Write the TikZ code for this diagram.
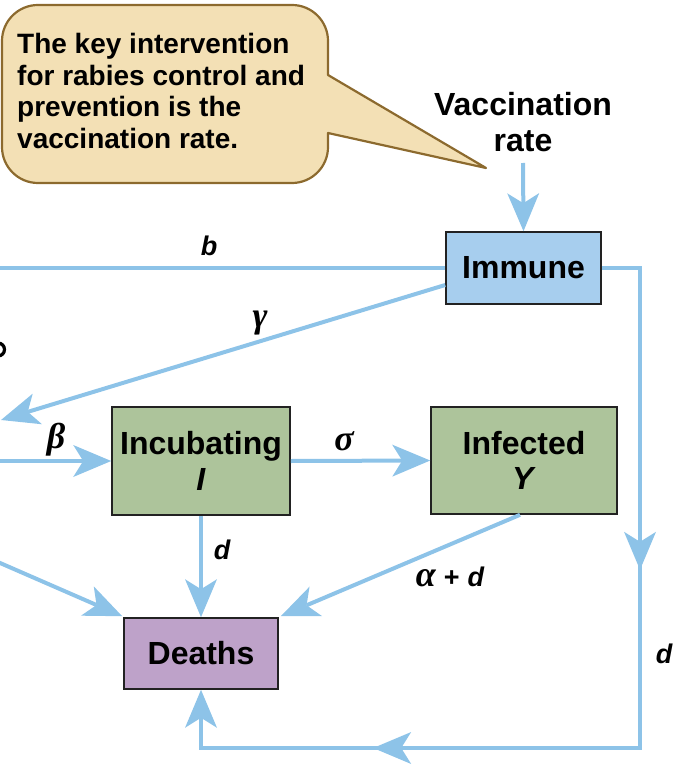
\documentclass[tikz,border=0pt]{standalone}
\usepackage{fontspec}
\setmainfont{Liberation Sans}
\newfontfamily\greekserif{Liberation Serif}
\usetikzlibrary{arrows.meta,decorations.markings,calc}

\definecolor{flow}{HTML}{8DC3E8}
\definecolor{boxline}{HTML}{222222}
\definecolor{immfill}{HTML}{A7CEEE}
\definecolor{stagefill}{HTML}{ADC49B}
\definecolor{deathfill}{HTML}{BEA2C9}
\definecolor{notefill}{HTML}{F3E0B5}
\definecolor{noteline}{HTML}{8C6A2E}

\newcommand{\boxfont}{\fontsize{32}{35.5}\selectfont\bfseries}
\newcommand{\notefont}{\fontsize{28}{31.7}\selectfont\bfseries}
\newcommand{\ratefont}{\fontsize{27}{30}\selectfont\bfseries\itshape}
\newcommand{\greekfont}{\fontsize{36}{38}\selectfont\greekserif\bfseries\itshape}

\tikzset{
  x=1pt, y=-1pt,
  stage/.style={draw=boxline, line width=1.6pt, inner sep=0pt, align=center, font=\boxfont},
  flowline/.style={draw=flow, line width=4pt},
  flowhead/.tip={Stealth[length=38pt,width=32pt,inset=10pt,line width=0pt]},
  flowtip/.style={-flowhead},
  ratelabel/.style={font=\ratefont, inner sep=0pt},
  greeklabel/.style={font=\greekfont, inner sep=0pt},
}

\begin{document}
\begin{tikzpicture}
\useasboundingbox (0,0) rectangle (676,767);
\clip (0,0) rectangle (676,767);

% speech bubble with its pointer
\draw[fill=notefill, draw=noteline, line width=2.2pt, line join=round]
  (38,5) -- (292,5) arc[start angle=-90, end angle=0, radius=36]
  -- (328,75) -- (486,168) -- (328,133) -- (328,147)
  arc[start angle=0, end angle=90, radius=36] -- (38,183)
  arc[start angle=90, end angle=180, radius=36] -- (2,41)
  arc[start angle=180, end angle=270, radius=36] -- cycle;
\node[anchor=north west, align=left, inner sep=0pt, font=\notefont] (note) at (17,33)
  {The key intervention\\for rabies control and\\prevention is the\\vaccination rate.};

% compartments
\node[stage, fill=immfill, minimum width=155pt, minimum height=72pt] (imm) at (523.5,268) {Immune};
\node[stage, fill=stagefill, minimum width=178pt, minimum height=108pt] (inc) at (201,461) {Incubating\\\textit{I}};
\node[stage, fill=stagefill, minimum width=186pt, minimum height=107pt] (inf) at (524,460.5) {Infected\\\textit{Y}};
\node[stage, fill=deathfill, minimum width=154pt, minimum height=71pt] (deaths) at (201,653.5) {Deaths};

\node[align=center, inner sep=0pt, font=\boxfont] (vacc) at (523,122) {Vaccination\\rate};

% free ends running off the left side, and corners of the return loop
\coordinate (bEnd) at (-10,268);
\coordinate (gStart) at ($(imm.west)+(0,17)$);
\coordinate (gEnd) at (1,420);
\coordinate (betaStart) at (-10,461);
\coordinate (lowStart) at (-10,558.6);
\coordinate (loopA) at (640,268);
\coordinate (loopB) at (640,748);
\coordinate (loopC) at (201,748);

% flows
\draw[flowline, flowtip] (vacc.south |- 0,163) -- (imm.north);
\draw[flowline] (imm.west) -- (bEnd);
\draw[flowline, flowtip] (gStart) -- (gEnd);
\draw[flowline, flowtip] (betaStart) -- (inc.west);
\draw[flowline, flowtip] (inc.east) -- (inf.west);
\draw[flowline, flowtip] (inc.south) -- (deaths.north);
\draw[flowline, flowtip] ($(inf.south)+(-4,0)$) -- ($(deaths.north east)+(2,-1)$);
\draw[flowline, flowtip] (lowStart) -- ($(deaths.north west)+(-1,-1)$);
\draw[flowline, flowtip,
  postaction={decorate, decoration={markings,
    mark=at position 340pt with {\arrow{flowhead}},
    mark=at position 785pt with {\arrow{flowhead}}}}]
  (imm.east) -- (loopA) -- (loopB) -- (loopC) -- (deaths.south);

% rate labels (one label is cut by the left border, only its bowl shows)
\node[ratelabel] (lb) at (209,246) {b};
\draw[line width=3.2pt] (-2,343) arc[start angle=-90, end angle=90, radius=6.5] coordinate (lbcut);
\node[greeklabel] (lg) at (260,323) {γ};
\node[greeklabel] (lbeta) at (56,440) {β};
\node[greeklabel] (ls) at (344,441) {σ};
\node[ratelabel] (ld1) at (222,550) {d};
\node[inner sep=0pt] (lad) at (450,577)
  {{\greekfont α}\hspace{8pt}{\ratefont\upshape+}\hspace{8pt}{\ratefont d}};
\node[ratelabel] (ld2) at (664,654) {d};
\end{tikzpicture}
\end{document}
